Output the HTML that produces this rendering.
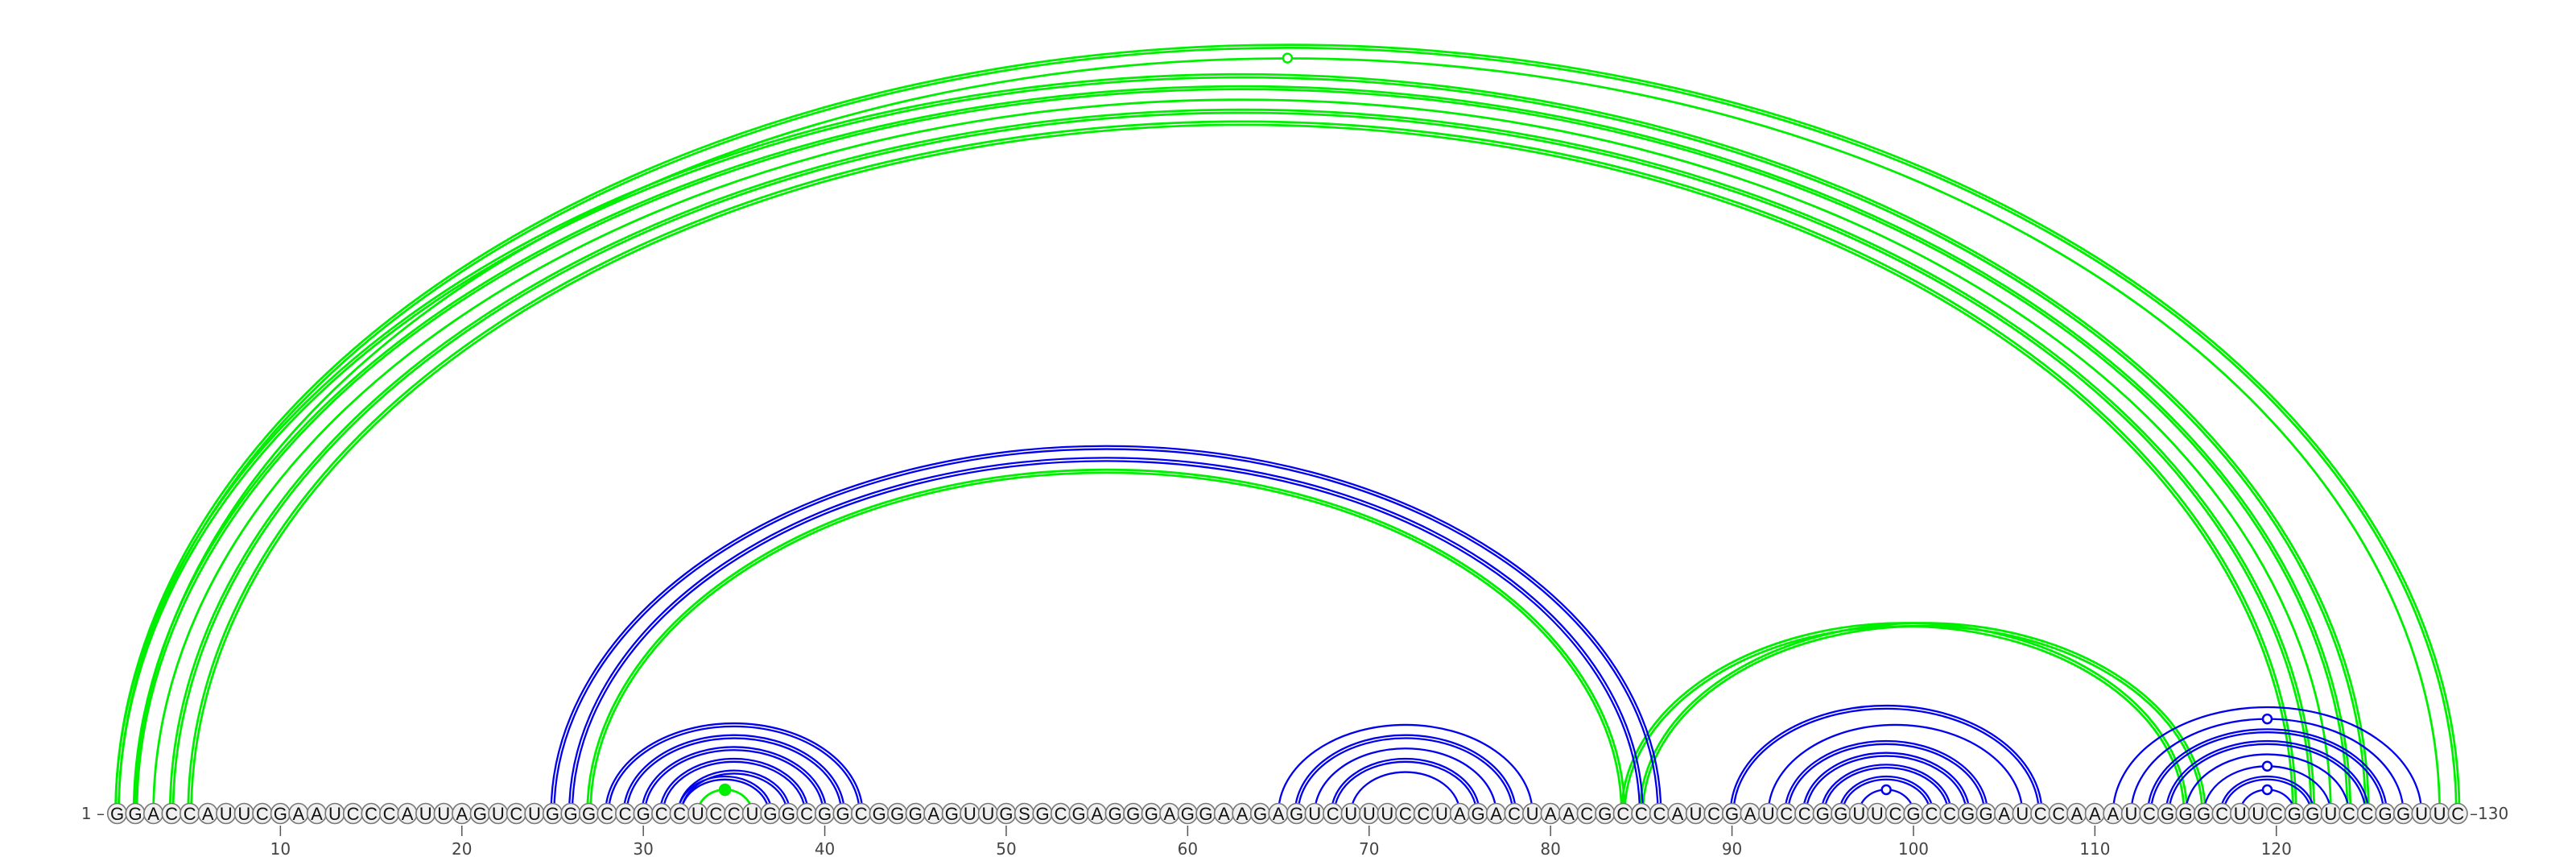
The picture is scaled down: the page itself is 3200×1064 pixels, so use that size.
<!DOCTYPE html>
<html><head><meta charset="utf-8"><style>
html,body{margin:0;padding:0;background:#fff;}
svg{display:block;}
text{font-family:"DejaVu Sans","Liberation Sans",sans-serif;}
</style></head><body>
<svg id="chart" width="3200" height="1064" viewBox="0 0 3200 1064" xmlns="http://www.w3.org/2000/svg">
<g id="arcs"></g>
<g id="nts"></g>
<g id="axis"></g>
</svg>
<script>
const sequence = "GGACCAUUCGAAUCCCAUUAGUCUGGGCCGCCUCCUGGCGGCGGGAGUUGSGCGAGGGAGGAAGAGUCUUUCCUAGACUAACGCCCAUCGAUCCGGUUCGCCGGAUCCAAAUCGGGCUUCGGUCCGGUUC";
// pairs: left index, right index
const pairI = [1,2,1,2,3,4,5, 27,84,85,33, 25,26,28,29,30,31,32,32, 65,66,67,68,69, 90,92,93,94,95,96,97, 111,112,113,114,115,116,117,118];
const pairJ = [130,129,125,124,123,122,121, 84,115,116,36, 86,85,42,41,40,39,38,37, 79,78,77,76,75, 107,106,104,103,102,101,100, 128,127,126,125,124,123,122,121];
const pairColor = ["g","g","g","g","g","g","g", "g","g","g","g", "b","b","b","b","b","b","b","b", "b","b","b","b","b", "b","b","b","b","b","b","b", "b","b","b","b","b","b","b","b"];
const pairLines = [2,1,2,2,1,2,2, 2,2,2,1, 2,2,2,2,2,2,2,2, 1,2,1,2,1, 2,1,2,2,2,2,1, 1,1,2,2,1,1,2,1];
const pairMark = ["","o","","","","","", "","","","f", "","","","","","","","", "","","","","", "","","","","","","o", "","o","","","","o","","o"];
const tickValues = [10,20,30,40,50,60,70,80,90,100,110,120];

const NS = "http://www.w3.org/2000/svg";
const X0 = 145.5, DX = 22.54, Y0 = 1010;
const xOf = i => X0 + (i - 1) * DX;
const hOf = rx => 0.65 * rx + 7.5;
const COL = {g:"#00ee00", b:"#0000ee"};
const SW = {g:2.8, b:2.3};
const arcs = document.getElementById('arcs');
const nts = document.getElementById('nts');
const axis = document.getElementById('axis');

function mk(tag, attrs, parent){const e=document.createElementNS(NS,tag);for(const k in attrs)e.setAttribute(k,attrs[k]);parent.appendChild(e);return e;}

for (let k = 0; k < pairI.length; k++) {
  const x1 = xOf(pairI[k]), x2 = xOf(pairJ[k]);
  const rx = (x2 - x1) / 2, ry = hOf(rx);
  const col = COL[pairColor[k]];
  const g = mk('g', {}, arcs);
  
  
  const offs = pairLines[k] === 2 ? [-1.9, 1.9] : [0];
  for (const d of offs) {
    const p = mk('path', {d: `M ${x1-d} ${Y0} A ${rx+d} ${ry+d} 0 0 1 ${x2+d} ${Y0}`, fill:'none', stroke:col, 'stroke-width':SW[pairColor[k]]}, g);
    
    
  }
  if (pairMark[k]) {
    const c = mk('circle', {cx:(x1+x2)/2, cy:Y0-ry, r:pairMark[k]==='f'?6.5:5.5, fill:pairMark[k]==='f'?col:'#fff', stroke:col, 'stroke-width':2.5}, g);
    
    
  }
}

for (let i = 1; i <= sequence.length; i++) {
  const g = mk('g', {}, nts);
  
  
  mk('ellipse', {cx:xOf(i), cy:Y0, rx:11.8, ry:12.5, fill:'#f0f0f0', stroke:'#777', 'stroke-width':1.6}, g);
  const t = mk('text', {x:xOf(i), y:Y0+8, 'text-anchor':'middle', 'font-size':22, fill:'#111', style:'font-family:"Liberation Sans",sans-serif'}, g);
  t.textContent = sequence[i-1];
}

for (const v of tickValues) {
  const x = xOf(v);
  const l = mk('line', {x1:x, y1:1025, x2:x, y2:1038, stroke:'#555', 'stroke-width':1.5}, axis);
  
  
  const t = mk('text', {x:x, y:1061, 'text-anchor':'middle', 'font-size':20, fill:'#444'}, axis);
  
  
  t.textContent = v;
}
const s = mk('text', {x:130, y:1017, 'text-anchor':'end', 'font-size':20, fill:'#444'}, axis);


s.textContent = '1 –';
const e = mk('text', {x:3068, y:1017, 'text-anchor':'start', 'font-size':20, fill:'#444'}, axis);


e.textContent = '–130';
</script>
</body></html>
